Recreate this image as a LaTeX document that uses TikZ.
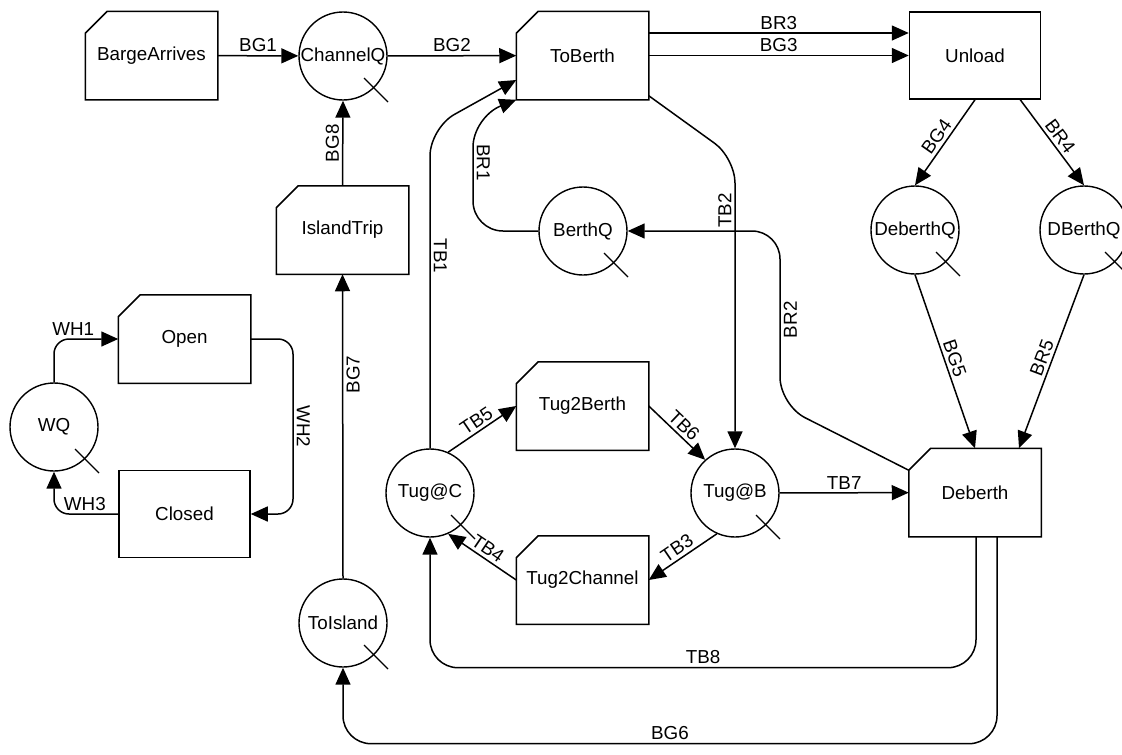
\documentclass[tikz,border=0pt]{standalone}
\usepackage{fontspec}
\setmainfont{Liberation Sans}
\usetikzlibrary{arrows.meta,calc}
\begin{document}
\begin{tikzpicture}[x=1pt,y=-1pt,
  every node/.style={font=\fontsize{18.8pt}{22pt}\selectfont},
  act/.style={draw, line width=1.5pt, rectangle, minimum width=131pt, minimum height=87pt, inner sep=0pt, outer sep=0.75pt},
  cutbox/.style={rectangle, minimum width=131pt, minimum height=87pt, inner sep=0pt, outer sep=0.75pt},
  que/.style={draw, line width=1.4pt, circle, minimum size=88pt, inner sep=0pt, outer sep=0.7pt},
  arr/.style={line width=1.5pt, -{Triangle[length=17pt,width=15pt]}, rounded corners=28pt},
  lab/.style={inner sep=3pt},
  slash/.style={line width=1.2pt}
]
\useasboundingbox (0,0) rectangle (1122,755);
\clip (0,0) rectangle (1122,755);
\fill[white] (0,0) rectangle (1122,755);

% nodes
\node[cutbox] (BA) at (151.5,55.5) {BargeArrives};
\node[que] (CQ) at (343,56) {ChannelQ};
\node[cutbox] (TB) at (582.5,55.5) {ToBerth};
\node[act] (UL) at (975,55.5) {Unload};
\node[cutbox] (IT) at (342.5,230) {IslandTrip};
\node[que] (BQ) at (583,231) {BerthQ};
\node[que] (DQ) at (915,230) {DeberthQ};
\node[que] (DBQ) at (1084,230) {DBerthQ};
\node[cutbox] (OP) at (184.5,339) {Open};
\node[que] (WQ) at (54,427) {WQ};
\node[act] (CL) at (184.5,514) {Closed};
\node[cutbox] (T2B) at (582.5,406) {Tug2Berth};
\node[que] (TC) at (430,493) {Tug@C};
\node[que] (TGB) at (735,493) {Tug@B};
\node[cutbox] (T2C) at (582.5,580) {Tug2Channel};
\node[cutbox] (DB) at (975,492.5) {Deberth};
\node[que] (TI) at (343,623) {ToIsland};

% outlines of boxes with a cut corner
\foreach \n in {BA,TB,IT,OP,T2B,T2C,DB}
  \draw[line width=1.5pt] (\n.south west) -- (\n.south east) -- (\n.north east)
     -- ([xshift=22pt]\n.north west) -- ([yshift=-22pt]\n.north west) -- cycle;

% slashes on queues
\foreach \n in {CQ,BQ,DQ,DBQ,WQ,TC,TGB,TI}
  \draw[slash] ([shift={(21,22)}]\n.center) -- ([shift={(45,46)}]\n.center);

% connectors
\draw[arr] (BA) -- node[lab,above]{BG1} (CQ);
\draw[arr] (CQ) -- node[lab,above]{BG2} (TB);
\draw[arr] ([yshift=22.5pt]TB.east) -- node[lab,above]{BR3} ([yshift=22.5pt]UL.west);
\draw[arr] (TB) -- node[lab,above]{BG3} (UL);
\draw[arr] (UL.south) -- node[lab,above,sloped]{BG4} (DQ.north);
\draw[arr] ([xshift=-21pt]UL.south east) -- node[lab,above,sloped]{BR4} (DBQ.north);
\draw[arr] (DQ.south) -- node[lab,above,sloped]{BG5} (DB.north);
\draw[arr] (DBQ.south) -- node[lab,above,sloped]{BR5} ([xshift=44pt]DB.north);
\draw[arr] ([xshift=22pt]DB.south) |- node[lab,pos=0.75,above]{BG6} ([yshift=-76pt]TI.south) -- (TI.south);
\draw[arr] ([xshift=1pt]DB.south) |- node[lab,pos=0.75,above]{TB8} ([yshift=-130pt]TC.south) -- (TC.south);
\draw[arr] (TGB) -- node[lab,above]{TB7} (DB);
\draw[arr,rounded corners=25pt] ([yshift=4pt]TB.south east) -- (735,158) -- node[lab,pos=0.18,rotate=90,anchor=south]{TB2} (TGB.north);
\draw[arr] (TC.north) -- node[lab,pos=0.6,rotate=-90,anchor=south]{TB1} (430,128) -- ([yshift=-24.5pt]TB.west);
\draw[arr,rounded corners=30pt] (BQ.west) -- (473,231) -- node[lab,pos=0.6,rotate=-90,anchor=south]{BR1} (473,117) [rounded corners=14pt] -- (TB.south west);
\draw[arr] ([yshift=-22pt]DB.north west) -- (780,405) -- node[lab,pos=0.49,rotate=90,anchor=north]{BR2} (780,231) -- (BQ.east);
\draw[arr] (TI.north) -- node[lab,pos=0.67,rotate=90,anchor=north]{BG7} (IT.south);
\draw[arr] (IT.north) -- node[lab,rotate=90,anchor=south]{BG8} (CQ.south);
\draw[arr,rounded corners=15pt] (WQ.north) |- node[lab,pos=0.65,above]{WH1} (OP.west);
\draw[arr,rounded corners=15pt] (OP.east) -- (293,339) -- node[lab,rotate=-90,anchor=south]{WH2} (293,514) -- (CL.east);
\draw[arr,rounded corners=15pt] (CL.west) -| node[lab,pos=0.26,above]{WH3} (WQ.south);
\draw[arr] (TC.66) -- node[lab,above,sloped]{TB5} (T2B.west);
\draw[arr] (T2B.east) -- node[lab,above,sloped]{TB6} (TGB.132);
\draw[arr] (TGB.-114) -- node[lab,above,sloped]{TB3} (T2C.east);
\draw[arr] (T2C.west) -- node[lab,above,sloped]{TB4} (TC.-66);
\end{tikzpicture}
\end{document}
